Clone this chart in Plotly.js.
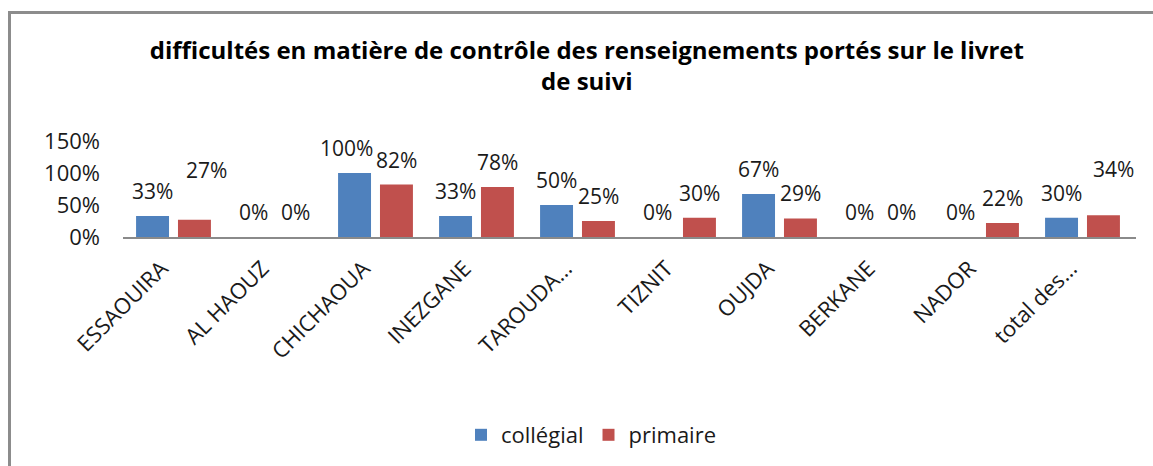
<!DOCTYPE html>
<html>
<head>
<meta charset="utf-8">
<script src="https://cdn.plot.ly/plotly-3.0.1.min.js"></script>
<style>
  html, body { margin: 0; padding: 0; background: #ffffff; overflow: hidden; }
  #chart { width: 1153px; height: 466px; position: absolute; left: 0; top: 0; }
  #frame { position: absolute; left: 8px; top: 11px; width: 1200px; height: 520px;
           border: 3px solid #8c8c8c; pointer-events: none; box-sizing: border-box; }
</style>
</head>
<body>
<div id="chart"></div>
<div id="frame"></div>
<script>
// ---- data ----
const categories = ["ESSAOUIRA", "AL HAOUZ", "CHICHAOUA", "INEZGANE", "TAROUDA\u2026",
                    "TIZNIT", "OUJDA", "BERKANE", "NADOR", "total des\u2026"];
const collegial = [0.33, 0, 1.00, 0.33, 0.50, 0, 0.67, 0, 0, 0.30];
const primaire  = [0.27, 0, 0.82, 0.78, 0.25, 0.30, 0.29, 0, 0.22, 0.34];
const seriesNames = ["coll\u00e9gial", "primaire"];
const titleText = "difficult\u00e9s en mati\u00e8re de contr\u00f4le des renseignements port\u00e9s sur le livret<br>de suivi";

// ---- styling ----
const colors = ["#4F81BD", "#C0504D"];
const FONT = "'Open Sans', 'Noto Sans', sans-serif";
const TXT = "#1a1a1a";
const groupShift = 21;            // px offset of each bar centre from category centre
const labelGap = 25;              // px between bar top and label centre
// small manual nudges of a few data labels, as in the reference (px)
const primLabelLift = [25, 0, 0, 0, 0, 0, 0, 0, 0, 21];
const primLabelNudge = [12, 0, 0, 0, 0, 0, 0, 0, 0, 10];
const colLabelNudge = [0, 0, -8, 0, 0, 0, 0, 0, 0, 0];

const fmt = v => Math.round(v * 100) + "%";

const traces = [
  { type: "bar", name: seriesNames[0], x: categories, y: collegial,
    marker: { color: colors[0] }, hoverinfo: "skip" },
  { type: "bar", name: seriesNames[1], x: categories, y: primaire,
    marker: { color: colors[1] }, hoverinfo: "skip" }
];

const annotations = [];
categories.forEach((c, i) => {
  annotations.push({ x: c, y: collegial[i], xref: "x", yref: "y", text: fmt(collegial[i]),
    showarrow: false, xanchor: "center", yanchor: "middle",
    xshift: -groupShift + colLabelNudge[i], yshift: labelGap,
    font: { family: FONT, size: 21, color: TXT } });
  annotations.push({ x: c, y: primaire[i], xref: "x", yref: "y", text: fmt(primaire[i]),
    showarrow: false, xanchor: "center", yanchor: "middle",
    xshift: groupShift + primLabelNudge[i], yshift: labelGap + primLabelLift[i],
    font: { family: FONT, size: 21, color: TXT } });
});

const layout = {
  width: 1153, height: 466,
  paper_bgcolor: "#ffffff", plot_bgcolor: "#ffffff",
  margin: { l: 123, r: 17, t: 141, b: 229, pad: 0 },
  font: { family: FONT, color: TXT, size: 21 },
  title: { text: titleText, xref: "container", x: 0.509, xanchor: "center",
           yref: "container", y: 1 - 59 / 466, yanchor: "top",
           font: { family: FONT, size: 24, color: "#000000", weight: "bold" } },
  barmode: "group", bargap: 0.17, bargroupgap: 0.214,
  showlegend: true,
  legend: { orientation: "h", xref: "container", x: 0.513, xanchor: "center",
            yref: "container", y: 1 - 435 / 466, yanchor: "middle",
            font: { family: FONT, size: 22, color: TXT }, itemwidth: 30,
            bgcolor: "rgba(0,0,0,0)" },
  xaxis: { type: "category", showline: true, linecolor: "#8a8a8a", linewidth: 2,
           showgrid: false, zeroline: false, ticks: "", tickangle: -45,
           ticklabelstandoff: 8, ticklabelshift: -12,
           tickfont: { family: FONT, size: 22, color: TXT }, fixedrange: true },
  yaxis: { range: [0, 1.5], dtick: 0.5, tick0: 0, tickformat: ".0%",
           showline: false, showgrid: false, zeroline: false, ticks: "",
           ticklabelstandoff: 22,
           tickfont: { family: FONT, size: 22, color: TXT }, fixedrange: true },
  annotations: annotations
};

Plotly.newPlot("chart", traces, layout, { displayModeBar: false, staticPlot: true });
</script>
</body>
</html>
